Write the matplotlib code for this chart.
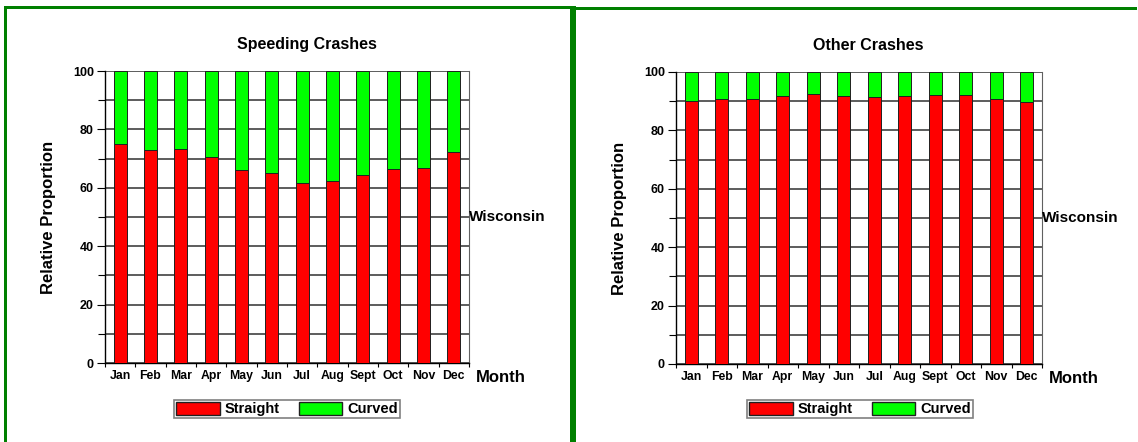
import matplotlib
matplotlib.use('Agg')
import matplotlib.pyplot as plt
from matplotlib.patches import Rectangle, Patch

plt.rcParams['font.family'] = ['Liberation Sans', 'DejaVu Sans']
plt.rcParams['font.weight'] = 'bold'

months = ['Jan', 'Feb', 'Mar', 'Apr', 'May', 'Jun', 'Jul', 'Aug', 'Sept', 'Oct', 'Nov', 'Dec']

# доля прямых участков, %
speeding_straight = [75.0, 72.8, 73.2, 70.7, 66.0, 65.0, 61.5, 62.5, 64.5, 66.3, 66.8, 72.2]
other_straight = [90.0, 90.8, 90.8, 91.8, 92.3, 91.8, 91.5, 91.8, 92.0, 92.0, 90.8, 89.8]

titles = ['Speeding Crashes', 'Other Crashes']
state = 'Wisconsin'

W, H = 1138, 442
fig = plt.figure(figsize=(W / 100, H / 100), dpi=100)


def px_box(x0, y0, x1, y1):
    # пиксели (сверху вниз) -> доли фигуры
    return [x0 / W, 1 - y1 / H, (x1 - x0) / W, (y1 - y0) / H]


def draw_panel(box, straight, title, legend_box, title_x):
    ax = fig.add_axes(px_box(*box))
    x = range(len(months))
    curved = [100 - s for s in straight]
    ax.bar(x, straight, width=0.42, color='#ff0000', edgecolor='#202020', linewidth=0.7, zorder=3)
    ax.bar(x, curved, bottom=straight, width=0.42, color='#00ff00', edgecolor='#202020', linewidth=0.7, zorder=3)

    ax.set_xlim(-0.5, len(months) - 0.5)
    ax.set_ylim(0, 100)
    ax.set_yticks(range(0, 101, 20))
    ax.set_yticks(range(10, 100, 20), minor=True)
    ax.set_xticks(list(x))
    ax.set_xticklabels(months, fontsize=8.8, fontweight='bold')
    ax.set_xticks([i - 0.5 for i in range(len(months) + 1)], minor=True)
    ax.tick_params(axis='x', which='major', length=0, pad=5)
    ax.tick_params(axis='x', which='minor', length=3, width=0.8, direction='out')
    ax.tick_params(axis='y', which='major', length=6, width=0.8, labelsize=9, pad=2)
    ax.tick_params(axis='y', which='minor', length=5, width=0.8)
    for lbl in ax.get_yticklabels():
        lbl.set_fontweight('bold')

    ax.grid(axis='y', which='both', color='#303030', linewidth=1.1, zorder=1)
    ax.set_axisbelow(True)
    ax.spines['top'].set_visible(False)
    ax.spines['right'].set_color('#606060')
    ax.spines['left'].set_linewidth(1.0)
    ax.spines['bottom'].set_linewidth(1.0)

    ax.set_ylabel('Relative Proportion', fontsize=12, fontweight='bold', labelpad=12)
    fig.text(title_x / W, 1 - 45 / H, title, ha='center', va='center', fontsize=11.5, fontweight='bold')
    ax.text(1.0, 0.5, state, transform=ax.transAxes, ha='left', va='center', fontsize=11, fontweight='bold')
    ax.text(1.02, -0.05, 'Month', transform=ax.transAxes, ha='left', va='center', fontsize=12, fontweight='bold')

    handles = [Patch(facecolor='#ff0000', edgecolor='#202020', label='Straight'),
               Patch(facecolor='#00ff00', edgecolor='#202020', label='Curved')]
    leg = fig.legend(handles=handles, loc='center', ncol=2,
                     bbox_to_anchor=(legend_box / W, 1 - 409 / H),
                     frameon=True, fancybox=False, edgecolor='#606060',
                     prop={'size': 10.5, 'weight': 'bold'}, handlelength=3.0, handleheight=1.0,
                     handletextpad=0.35, columnspacing=1.3, borderpad=0.12, borderaxespad=0)
    leg.get_frame().set_linewidth(1.2)
    return ax


draw_panel((105, 71, 469, 363), speeding_straight, titles[0], 287, 307)
draw_panel((676, 72, 1042, 364), other_straight, titles[1], 860, 868)

# зелёные рамки
green = '#008000'
for x0, y0, x1, y1 in [(4, 6, 576, 9), (4, 6, 7, H), (570, 7, 576, H), (570, 7, 1137, 10)]:
    fig.add_artist(Rectangle((x0 / W, 1 - y1 / H), (x1 - x0) / W, (y1 - y0) / H,
                             transform=fig.transFigure, facecolor=green, edgecolor='none'))

fig.savefig('out.png', dpi=100)
